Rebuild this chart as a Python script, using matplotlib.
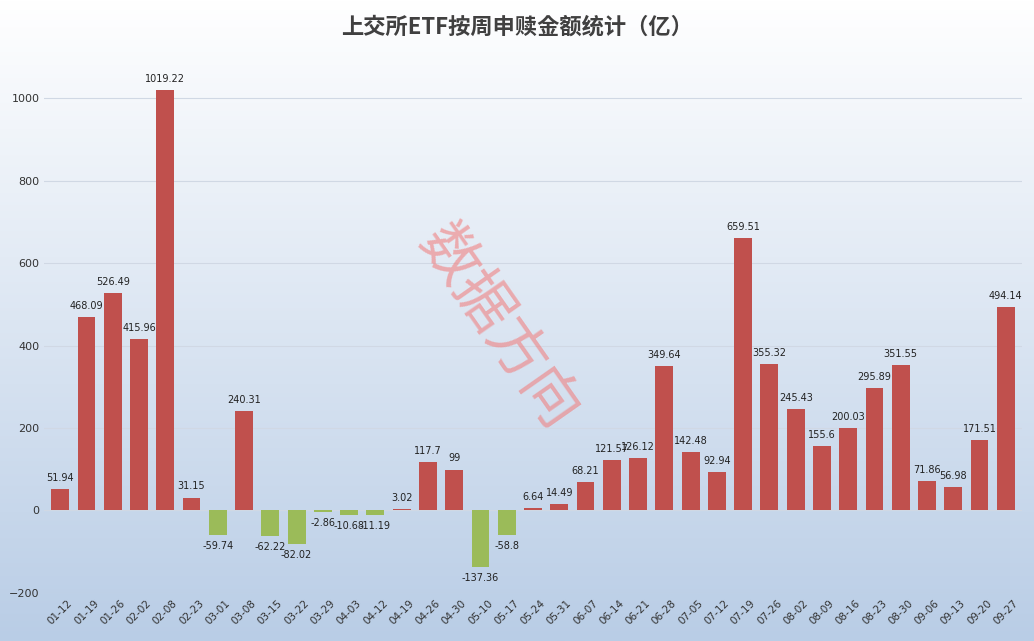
import numpy as np
import matplotlib.pyplot as plt
from matplotlib import font_manager
from matplotlib.colors import LinearSegmentedColormap

weeks = ['01-12', '01-19', '01-26', '02-02', '02-08', '02-23', '03-01', '03-08', '03-15', '03-22',
         '03-29', '04-03', '04-12', '04-19', '04-26', '04-30', '05-10', '05-17', '05-24', '05-31',
         '06-07', '06-14', '06-21', '06-28', '07-05', '07-12', '07-19', '07-26', '08-02', '08-09',
         '08-16', '08-23', '08-30', '09-06', '09-13', '09-20', '09-27']
values = [51.94, 468.09, 526.49, 415.96, 1019.22, 31.15, -59.74, 240.31, -62.22, -82.02,
          -2.86, -10.68, -11.19, 3.02, 117.7, 99, -137.36, -58.8, 6.64, 14.49,
          68.21, 121.57, 126.12, 349.64, 142.48, 92.94, 659.51, 355.32, 245.43, 155.6,
          200.03, 295.89, 351.55, 71.86, 56.98, 171.51, 494.14]

# find a sans CJK font file
cjk = None
cands = [f for f in font_manager.findSystemFonts() if 'CJK' in f and 'Serif' not in f]
for f in cands:
    if 'Regular' in f:
        cjk = f
        break
if cjk is None and cands:
    cjk = cands[0]
if cjk:
    font_manager.fontManager.addfont(cjk)
    cjk_name = font_manager.FontProperties(fname=cjk).get_name()
else:
    cjk_name = 'Noto Sans CJK SC'
plt.rcParams['font.family'] = ['DejaVu Sans', cjk_name]

fig = plt.figure(figsize=(10.34, 6.41), dpi=100)

# gradient background
bg = fig.add_axes([0, 0, 1, 1], zorder=-10)
grad = np.linspace(0, 1, 256).reshape(-1, 1)
cmap = LinearSegmentedColormap.from_list('bg', ['#ffffff', '#b9cde6'])
bg.imshow(grad, aspect='auto', cmap=cmap, extent=[0, 1, 0, 1])
bg.axis('off')

ax = fig.add_axes([0.043, 0.075, 0.945, 0.817])
ax.patch.set_alpha(0)
x = np.arange(len(values))
colors = ['#c0504d' if v >= 0 else '#9bbb59' for v in values]
ax.bar(x, values, width=0.68, color=colors, zorder=3)
for xi, v in zip(x, values):
    lab = f'{v:g}'
    if v >= 0:
        ax.text(xi, v + 15, lab, ha='center', va='bottom', fontsize=7, color='#222222', zorder=4)
    else:
        ax.text(xi, v - 15, lab, ha='center', va='top', fontsize=7, color='#222222', zorder=4)

ax.set_ylim(-200, 1070)
ax.set_yticks(range(-200, 1001, 200))
ax.set_xlim(-0.6, len(values) - 0.4)
ax.set_xticks(x)
ax.set_xticklabels(weeks, rotation=45, fontsize=7.5, color='#333333')
ax.tick_params(axis='y', labelsize=8, colors='#333333', length=0)
ax.tick_params(axis='x', length=0)
ax.yaxis.grid(True, color='#d0d8e4', linewidth=0.8, zorder=0)
for s in ax.spines.values():
    s.set_visible(False)

fig.text(0.5, 0.958, '上交所ETF按周申赎金额统计（亿）', ha='center', va='center',
         fontsize=16, fontweight='bold', color='#404040', family=[cjk_name])
fig.text(0.482, 0.49, '数据方向', rotation=-55, ha='center', va='center',
         fontsize=42, color='#f08080', alpha=0.6, family=[cjk_name])

fig.savefig('out.png', dpi=100)
